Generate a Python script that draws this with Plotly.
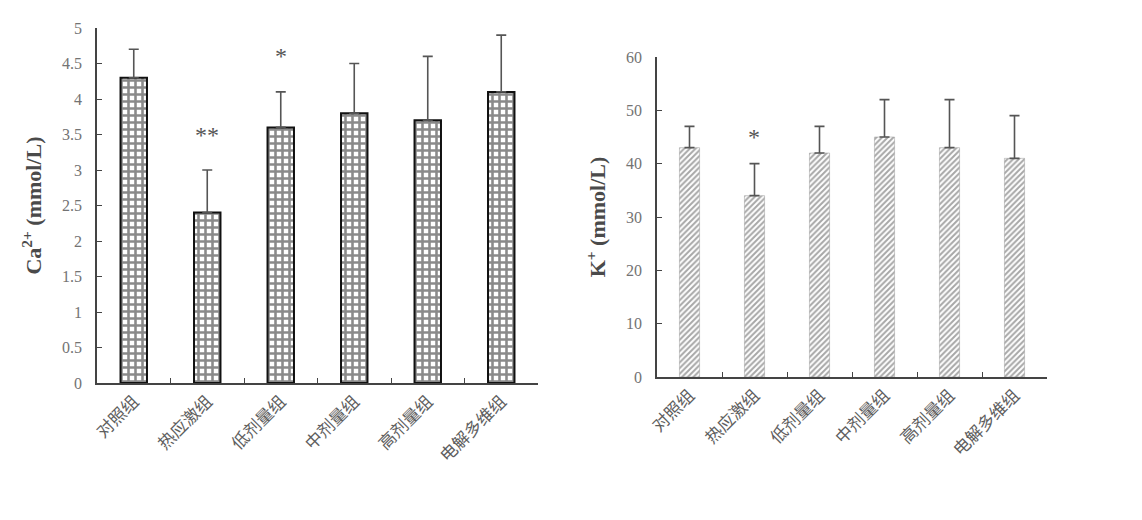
import plotly.graph_objects as go

categories = ["对照组", "热应激组", "低剂量组", "中剂量组", "高剂量组", "电解多维组"]
ca_values = [4.3, 2.4, 3.6, 3.8, 3.7, 4.1]
ca_err = [0.4, 0.6, 0.5, 0.7, 0.9, 0.8]
k_values = [43, 34, 42, 45, 43, 41]
k_err = [4, 6, 5, 7, 9, 8]
ca_marks = {"热应激组": ("**", 3.5), "低剂量组": ("*", 4.6)}
k_marks = {"热应激组": ("*", 45)}

W, H = 1142, 520
ML, MR, MT, MB = 10, 10, 10, 10
OFF = 8  # page body offset
def fx(px): return (px - OFF - ML) / (W - ML - MR)
def fy(py): return 1 - (py - OFF - MT) / (H - MT - MB)

grey = "#555555"
tickfont = dict(family="Liberation Serif", size=16, color="#737373")
catfont = dict(family="Noto Sans CJK SC", size=17, color="#5e5e5e")
titlefont = dict(family="Liberation Serif", size=22, color="#4a4a4a")

fig = go.Figure()
fig.add_trace(go.Bar(
    x=categories, y=ca_values, xaxis="x", yaxis="y", width=0.36,
    marker=dict(color="white", line=dict(color="#111111", width=2),
                pattern=dict(shape="+", fgcolor="#151515", bgcolor="white", size=7, solidity=0.6)),
    error_y=dict(type="data", symmetric=False, array=ca_err, arrayminus=[0]*6,
                 color=grey, thickness=1.6, width=5),
    showlegend=False))
fig.add_trace(go.Bar(
    x=categories, y=k_values, xaxis="x2", yaxis="y2", width=0.31,
    marker=dict(color="white", line=dict(color="#9a9a9a", width=0.5),
                pattern=dict(shape="/", fgcolor="#505050", bgcolor="white", size=4, solidity=0.5)),
    error_y=dict(type="data", symmetric=False, array=k_err, arrayminus=[0]*6,
                 color=grey, thickness=1.6, width=5),
    showlegend=False))

axis_common = dict(showline=True, linecolor="#444444", linewidth=1.5, showgrid=False,
                   zeroline=False, automargin=False)
fig.update_layout(
    width=W, height=H, margin=dict(l=ML, r=MR, t=MT, b=MB),
    plot_bgcolor="white", paper_bgcolor="white", bargap=0.6,
    xaxis=dict(domain=[fx(97), fx(538)], anchor="y", type="category", tickson="boundaries",
               ticks="inside", ticklen=5, tickcolor="#444444", tickangle=-45,
               tickfont=catfont, **axis_common),
    yaxis=dict(domain=[fy(383), fy(28)], anchor="x", range=[0, 5], dtick=0.5,
               ticks="inside", ticklen=5, tickcolor="#444444", tickfont=tickfont,
               ticklabelstandoff=10,
               title=dict(text="<b>Ca<sup>2+</sup> (mmol/L)</b>", font=titlefont, standoff=14),
               **axis_common),
    xaxis2=dict(domain=[fx(657), fx(1047)], anchor="y2", type="category", tickson="boundaries",
                ticks="inside", ticklen=5, tickcolor="#444444", tickangle=-45,
                tickfont=catfont, **axis_common),
    yaxis2=dict(domain=[fy(377), fy(57)], anchor="x2", range=[0, 60], dtick=10,
                ticks="inside", ticklen=5, tickcolor="#444444", tickfont=tickfont,
                ticklabelstandoff=10,
                title=dict(text="<b>K<sup>+</sup> (mmol/L)</b>", font=titlefont, standoff=14),
                **axis_common),
)

for cat, (txt, yv) in ca_marks.items():
    fig.add_annotation(x=cat, y=yv, xref="x", yref="y", text=txt, showarrow=False,
                       font=dict(family="Liberation Serif", size=24, color=grey))
for cat, (txt, yv) in k_marks.items():
    fig.add_annotation(x=cat, y=yv, xref="x2", yref="y2", text=txt, showarrow=False,
                       font=dict(family="Liberation Serif", size=24, color=grey))

fig.write_html("out.html")
